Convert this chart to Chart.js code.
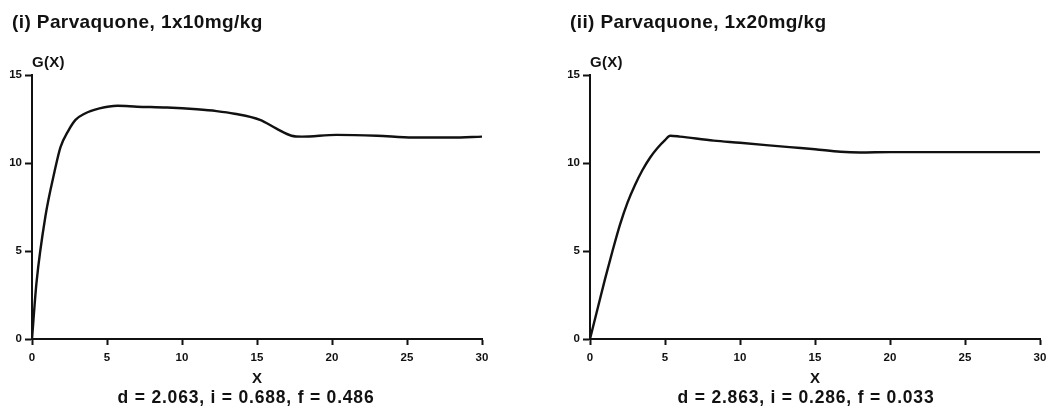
<!DOCTYPE html>
<html>
<head>
<meta charset="utf-8">
<script src="https://cdn.jsdelivr.net/npm/chart.js@4/dist/chart.umd.min.js"></script>
<style>
  html, body { margin: 0; padding: 0; background: #fff; }
  body { width: 1055px; height: 410px; position: relative; overflow: hidden;
         font-family: "Liberation Sans", Arial, sans-serif; color: #111; }
  .panel { position: absolute; top: 0; height: 410px; }
  .panel canvas { display: block; }
  .txt { position: absolute; font-weight: bold; white-space: nowrap; line-height: 1; }
  .title { font-size: 19px; letter-spacing: 0.4px; }
  .ylab { font-size: 15px; letter-spacing: 0.3px; }
  .xlab { font-size: 15px; transform: translateX(-50%); }
  .params { font-size: 17.5px; letter-spacing: 0.8px; transform: translateX(-50%); }
</style>
</head>
<body>
<div class="panel" id="p1" style="left:0;width:527px"><canvas id="c1" width="527" height="410"></canvas></div>
<div class="panel" id="p2" style="left:527px;width:528px"><canvas id="c2" width="528" height="410"></canvas></div>

<div class="txt title" style="left:12px;top:12px">(i) Parvaquone, 1x10mg/kg</div>
<div class="txt ylab" style="left:32px;top:54px">G(X)</div>
<div class="txt xlab" style="left:257px;top:370px">X</div>
<div class="txt params" style="left:246px;top:389px">d = 2.063, i = 0.688, f = 0.486</div>

<div class="txt title" style="left:570px;top:12px">(ii) Parvaquone, 1x20mg/kg</div>
<div class="txt ylab" style="left:590px;top:54px">G(X)</div>
<div class="txt xlab" style="left:815px;top:370px">X</div>
<div class="txt params" style="left:806px;top:389px">d = 2.863, i = 0.286, f = 0.033</div>

<script>
// Panel (i): 1x10mg/kg
const x1 = [0, 0.3, 0.9, 1.5, 1.9, 2.4, 2.9, 3.5, 4.5, 5.7, 7, 9, 11, 12.3, 13.5, 15.2, 16.3, 17.3, 18, 20.3, 23, 25.4, 28, 30];
const g1 = [0, 3.2, 7.0, 9.5, 10.9, 11.8, 12.45, 12.8, 13.1, 13.25, 13.2, 13.15, 13.05, 12.95, 12.8, 12.45, 11.95, 11.55, 11.5, 11.6, 11.55, 11.45, 11.45, 11.5];

// Panel (ii): 1x20mg/kg
const x2 = [0, 0.5, 1, 1.5, 2, 2.5, 3, 3.5, 4, 4.5, 5, 5.35, 6, 8.25, 10, 13.3, 15, 16.7, 18, 20, 25, 30];
const g2 = [0, 1.7, 3.4, 5.0, 6.5, 7.75, 8.75, 9.6, 10.3, 10.85, 11.3, 11.55, 11.5, 11.27, 11.15, 10.9, 10.78, 10.64, 10.6, 10.62, 10.62, 10.62];

const xRange = [0, 30];
const yRange = [0, 15];
const tickStep = 5;

function pairs(xs, ys) { return xs.map((x, i) => ({ x: x, y: ys[i] })); }

function makeChart(id, xs, ys, padLeft, padRight) {
  const tickFont = { family: '"Liberation Sans", Arial, sans-serif', size: 11.5, weight: 'bold' };
  return new Chart(document.getElementById(id), {
    type: 'line',
    data: {
      datasets: [{
        data: pairs(xs, ys),
        borderColor: '#111',
        borderWidth: 2.4,
        pointRadius: 0,
        fill: false,
        cubicInterpolationMode: 'monotone'
      }]
    },
    options: {
      responsive: false,
      animation: false,
      events: [],
      layout: { padding: { left: padLeft, right: padRight, top: 75, bottom: 0 } },
      plugins: { legend: { display: false }, title: { display: false }, tooltip: { enabled: false } },
      scales: {
        x: {
          type: 'linear', min: xRange[0], max: xRange[1],
          border: { display: true, color: '#111', width: 2 },
          grid: { drawOnChartArea: false, drawTicks: true, tickLength: 6, tickWidth: 2, color: '#111' },
          ticks: { stepSize: tickStep, color: '#111', font: tickFont, padding: 6, maxRotation: 0 },
          afterFit: (s) => { s.height = 71; }
        },
        y: {
          min: yRange[0], max: yRange[1],
          border: { display: true, color: '#111', width: 2 },
          grid: { drawOnChartArea: false, drawTicks: true, tickLength: 7, tickWidth: 2, color: '#111' },
          ticks: { stepSize: tickStep, color: '#111', font: tickFont, padding: 3 },
          afterFit: (s) => { s.width = 32; }
        }
      }
    }
  });
}

makeChart('c1', x1, g1, 0, 45);
makeChart('c2', x2, g2, 31, 15);
</script>
</body>
</html>
